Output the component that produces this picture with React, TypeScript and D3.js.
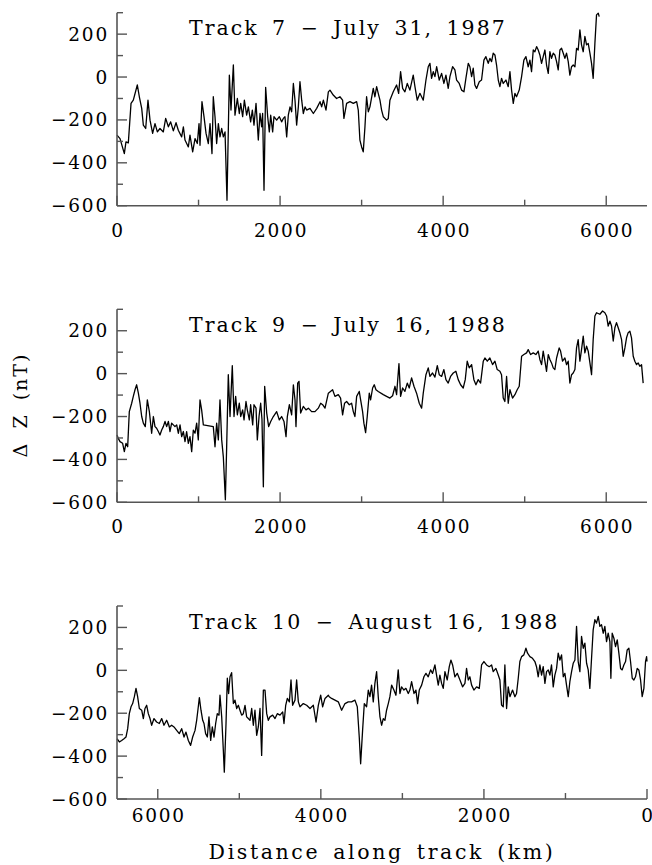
import React from "react";
import * as d3 from "d3";

// Track 7 – July 31, 1987 : [distance km, ΔZ nT]
const track7: [number, number][] = [
  [0, -271], [37, -287], [90, -357], [110, -302], [139, -307], [172, -123], [200, -108], [249, -37],
  [274, -92], [303, -146], [323, -224], [352, -240], [380, -108], [405, -201], [437, -263], [466, -217],
  [495, -256], [527, -240], [568, -256], [597, -193], [630, -232], [658, -209], [691, -251], [724, -213],
  [752, -248], [793, -279], [814, -232], [834, -294], [875, -326], [895, -271], [928, -349], [957, -287],
  [985, -310], [1006, -217], [1018, -318], [1042, -115], [1067, -185], [1092, -263], [1120, -310], [1141, -217],
  [1165, -357], [1181, -92], [1202, -185], [1222, -310], [1243, -217], [1263, -279], [1284, -240], [1304, -279],
  [1325, -256], [1349, -575], [1378, 9], [1398, -154], [1427, 56], [1447, -178], [1476, -100], [1500, -170],
  [1517, -123], [1541, -185], [1562, -108], [1590, -178], [1611, -139], [1639, -209], [1660, -154], [1680, -224],
  [1705, -123], [1733, -294], [1754, -170], [1774, -232], [1786, -170], [1803, -528], [1823, -48], [1848, -185],
  [1868, -256], [1885, -178], [1909, -256], [1925, -185], [1958, -201], [1991, -185], [2019, -209], [2040, -193],
  [2060, -185], [2081, -279], [2101, -178], [2122, -139], [2142, -162], [2163, -30], [2183, -108], [2203, -224],
  [2224, -139], [2244, -22], [2265, -108], [2285, -170], [2306, -139], [2326, -154], [2367, -146], [2408, -170],
  [2449, -146], [2490, -115], [2510, -139], [2531, -108], [2563, -154], [2592, -69], [2612, -61], [2652, -84],
  [2693, -100], [2734, -92], [2767, -108], [2783, -193], [2816, -123], [2857, -115], [2898, -123], [2939, -115],
  [2959, -154], [2979, -294], [3000, -326], [3020, -349], [3041, -232], [3061, -92], [3082, -162], [3102, -139],
  [3143, -53], [3163, -92], [3184, -45], [3204, -76], [3225, -108], [3245, -154], [3266, -185], [3306, -201],
  [3327, -193], [3347, -108], [3388, -69], [3429, -37], [3454, -76], [3478, 25], [3503, -53], [3531, -69],
  [3560, -30], [3592, -61], [3633, 9], [3654, -45], [3682, -108], [3715, -76], [3756, -108], [3789, -14],
  [3817, 48], [3838, 64], [3858, -6], [3879, 25], [3899, 2], [3920, 48], [3952, -14], [3981, 17],
  [4009, -30], [4034, 9], [4062, -53], [4083, 2], [4116, 48], [4144, 33], [4165, -14], [4197, -30],
  [4226, -61], [4255, -69], [4279, -6], [4308, 64], [4328, 48], [4349, 2], [4369, 41], [4389, -37],
  [4410, -53], [4443, -22], [4471, -14], [4500, 79], [4524, 95], [4553, 64], [4573, 87], [4594, 72],
  [4614, 111], [4635, 103], [4655, 56], [4676, -14], [4696, -45], [4716, -6], [4737, -30], [4770, -14],
  [4798, -45], [4819, 25], [4839, -61], [4860, -123], [4880, -76], [4900, -92], [4933, -61], [4962, 2],
  [4990, 79], [5015, 95], [5043, 48], [5064, 79], [5084, 25], [5105, 126], [5125, 118], [5146, 142],
  [5166, 126], [5186, 103], [5207, 64], [5227, 95], [5248, 126], [5268, 56], [5289, 17], [5309, 118],
  [5329, 87], [5350, 111], [5370, 103], [5391, 72], [5411, 33], [5432, 126], [5452, 134], [5473, 111],
  [5493, 87], [5513, 111], [5534, 72], [5554, 9], [5575, 48], [5595, 56], [5616, 48], [5636, 134],
  [5656, 126], [5677, 220], [5697, 150], [5718, 118], [5738, 189], [5759, 150], [5779, 157], [5800, 111],
  [5820, 64], [5840, -6], [5861, 157], [5881, 290], [5902, 298], [5914, 282],
];

// Track 9 – July 16, 1988
const track9: [number, number][] = [
  [0, -286], [16, -302], [37, -317], [69, -325], [90, -364], [110, -325], [131, -341], [151, -177],
  [180, -138], [200, -106], [221, -75], [241, -52], [262, -91], [282, -138], [303, -200], [323, -231],
  [347, -247], [372, -122], [397, -177], [425, -278], [446, -200], [466, -247], [486, -255], [507, -270],
  [527, -286], [548, -263], [568, -247], [589, -223], [609, -247], [630, -223], [650, -270], [670, -231],
  [691, -239], [711, -247], [732, -239], [752, -278], [773, -239], [793, -294], [814, -270], [834, -317],
  [854, -270], [875, -325], [895, -294], [916, -364], [936, -263], [957, -278], [977, -231], [997, -309],
  [1018, -122], [1038, -169], [1059, -239], [1181, -247], [1202, -341], [1222, -231], [1243, -309], [1263, -122],
  [1284, -309], [1304, -388], [1329, -588], [1345, -341], [1365, -5], [1386, -200], [1414, 37], [1435, -200],
  [1455, -106], [1476, -192], [1500, -138], [1517, -200], [1541, -169], [1558, -216], [1582, -130], [1598, -169],
  [1623, -216], [1639, -145], [1664, -239], [1680, -145], [1705, -161], [1721, -309], [1742, -200], [1762, -138],
  [1778, -213], [1795, -528], [1811, -59], [1836, -184], [1860, -247], [1885, -223], [1917, -200], [1958, -177],
  [1991, -216], [2019, -200], [2048, -223], [2073, -294], [2089, -200], [2114, -145], [2142, -192], [2163, -52],
  [2183, -122], [2195, -247], [2216, -44], [2232, -36], [2252, -184], [2285, -153], [2318, -169], [2347, -161],
  [2387, -177], [2428, -177], [2469, -161], [2498, -138], [2522, -145], [2551, -161], [2592, -91], [2644, -75],
  [2673, -106], [2714, -98], [2742, -114], [2767, -192], [2791, -138], [2816, -130], [2849, -145], [2877, -138],
  [2898, -177], [2918, -200], [2939, -106], [2971, -83], [2988, -122], [3012, -177], [3028, -231], [3049, -275],
  [3069, -200], [3094, -91], [3110, -122], [3135, -67], [3155, -52], [3176, -75], [3204, -83], [3266, -98],
  [3306, -106], [3347, -114], [3380, -103], [3409, -59], [3429, -98], [3458, 47], [3478, -106], [3503, -67],
  [3531, -83], [3560, -44], [3584, -67], [3613, -20], [3642, -59], [3674, -91], [3707, -138], [3736, -161],
  [3756, -91], [3789, -5], [3817, 27], [3838, -13], [3870, 3], [3899, -16], [3928, 37], [3952, -5],
  [3981, -13], [4009, 19], [4034, -28], [4062, -44], [4091, -13], [4124, 3], [4156, 11], [4185, -28],
  [4214, -52], [4246, -67], [4271, -28], [4295, 58], [4320, 27], [4349, 42], [4377, -28], [4402, -52],
  [4430, -28], [4459, -44], [4492, 58], [4512, 73], [4541, 58], [4573, 73], [4606, 42], [4635, 58],
  [4663, 19], [4696, 11], [4716, -5], [4737, -114], [4757, -130], [4778, -13], [4798, -138], [4819, -75],
  [4851, -114], [4880, -98], [4908, -75], [4933, -59], [4962, 81], [4990, 89], [5023, 97], [5043, 112],
  [5072, 89], [5105, 97], [5137, 89], [5166, 105], [5186, 66], [5207, 42], [5227, 105], [5248, 58],
  [5268, 11], [5289, 89], [5309, 66], [5329, 50], [5350, 27], [5370, 19], [5391, 73], [5423, 120],
  [5440, 105], [5464, 58], [5493, 73], [5513, 42], [5534, 58], [5554, -44], [5575, -5], [5595, 3],
  [5616, 19], [5636, 120], [5656, 159], [5677, 58], [5697, 112], [5718, 175], [5738, 97], [5759, 128],
  [5779, 105], [5800, 50], [5820, -5], [5840, 159], [5861, 269], [5881, 284], [5922, 277], [5955, 292],
  [5983, 284], [6004, 269], [6024, 222], [6045, 245], [6065, 222], [6086, 152], [6106, 214], [6126, 238],
  [6147, 214], [6167, 191], [6188, 159], [6208, 81], [6229, 120], [6249, 167], [6269, 191], [6290, 198],
  [6310, 167], [6331, 81], [6351, 58], [6372, 42], [6392, 50], [6412, 34], [6433, 42], [6453, -44],
];

// Track 10 – August 16, 1988 (distance axis reversed)
const track10: [number, number][] = [
  [6500, -319], [6471, -334], [6443, -327], [6414, -319], [6390, -311], [6369, -272], [6349, -202], [6328, -170],
  [6308, -155], [6287, -123], [6267, -84], [6247, -123], [6226, -178], [6197, -186], [6177, -225], [6157, -178],
  [6136, -163], [6116, -202], [6095, -225], [6075, -256], [6046, -225], [6014, -241], [5981, -248], [5952, -225],
  [5924, -256], [5891, -233], [5858, -264], [5830, -256], [5801, -264], [5768, -280], [5736, -295], [5707, -272],
  [5678, -311], [5654, -288], [5625, -327], [5597, -350], [5572, -311], [5543, -280], [5523, -233], [5503, -170],
  [5490, -127], [5470, -186], [5449, -233], [5433, -248], [5413, -295], [5392, -311], [5372, -217], [5351, -327],
  [5331, -264], [5310, -311], [5290, -248], [5270, -202], [5249, -209], [5237, -116], [5216, -217], [5196, -373],
  [5184, -475], [5163, -248], [5147, -37], [5131, -108], [5114, -30], [5094, -11], [5073, -155], [5053, -139],
  [5032, -178], [5012, -163], [4992, -186], [4971, -209], [4951, -202], [4930, -163], [4910, -217], [4889, -225],
  [4869, -233], [4848, -178], [4828, -256], [4808, -186], [4787, -303], [4767, -264], [4746, -178], [4726, -397],
  [4705, -92], [4685, -92], [4664, -202], [4644, -233], [4624, -217], [4591, -209], [4562, -225], [4534, -202],
  [4501, -209], [4468, -194], [4452, -248], [4431, -163], [4411, -131], [4386, -147], [4366, -45], [4346, -163],
  [4317, -139], [4297, -45], [4276, -147], [4256, -170], [4215, -155], [4174, -163], [4133, -178], [4092, -163],
  [4059, -241], [4031, -163], [4002, -116], [3978, -170], [3949, -131], [3908, -116], [3897, -123], [3868, -131],
  [3827, -139], [3786, -147], [3745, -186], [3704, -155], [3664, -147], [3623, -147], [3582, -139], [3553, -170],
  [3529, -311], [3512, -436], [3488, -280], [3467, -155], [3439, -170], [3418, -92], [3398, -123], [3378, -69],
  [3357, -147], [3337, -61], [3316, -6], [3296, -123], [3275, -217], [3255, -256], [3234, -225], [3214, -233],
  [3194, -186], [3173, -155], [3153, -123], [3132, -69], [3104, -92], [3079, -116], [3051, 2], [3030, -108],
  [3010, -77], [2981, -92], [2957, -84], [2928, -108], [2908, -92], [2887, -53], [2858, -108], [2834, -92],
  [2813, -155], [2793, -92], [2764, -69], [2736, -30], [2711, -14], [2683, -30], [2654, 2], [2630, -14],
  [2601, 25], [2581, -22], [2560, -69], [2540, -22], [2519, -61], [2499, -84], [2478, -6], [2450, -45],
  [2425, 17], [2405, 48], [2384, 25], [2356, -30], [2327, -14], [2294, -45], [2262, -77], [2233, -61],
  [2213, 9], [2192, -45], [2172, -30], [2151, -69], [2123, -92], [2090, -77], [2057, -84], [2029, 25],
  [2000, 41], [1968, 25], [1935, 17], [1906, 25], [1886, -6], [1853, 9], [1824, -22], [1804, -45],
  [1784, -162], [1763, -170], [1743, 25], [1722, -178], [1702, -77], [1681, -123], [1649, -92], [1620, -123],
  [1600, -108], [1579, -37], [1559, 41], [1538, 64], [1510, 72], [1485, 103], [1465, 80], [1436, 64],
  [1404, 56], [1375, 41], [1355, 17], [1334, -30], [1314, 25], [1293, -22], [1273, 17], [1252, -61],
  [1232, -6], [1211, 2], [1191, -22], [1171, 25], [1150, -77], [1130, -22], [1109, 9], [1089, 80],
  [1068, 48], [1048, 72], [1027, -30], [1007, -14], [987, -69], [966, -123], [946, -53], [925, -6],
  [905, 33], [884, 48], [864, 205], [844, 41], [823, -6], [803, 158], [782, 103], [762, 127],
  [741, 33], [721, 2], [701, -84], [680, 56], [660, 189], [639, 236], [619, 220], [598, 252],
  [578, 205], [558, 213], [537, 173], [517, 205], [496, 134], [476, 173], [455, 134], [443, -37],
  [427, 173], [406, 150], [386, 111], [365, 142], [345, 80], [324, 9], [304, 2], [284, 25],
  [263, 41], [243, 95], [222, 103], [202, 41], [181, -37], [161, -45], [141, -30], [120, 9],
  [100, 2], [79, -45], [59, -123], [38, -84], [18, 41], [5, 64], [0, 41],
];

const yMajorTicks = [-600, -400, -200, 0, 200];
const yMinorTicks = [-500, -300, -100, 100, 300];
const xMajorTicks = [0, 2000, 4000, 6000];
const xMinorTicks = [1000, 3000, 5000];
const panelTitles = ["Track 7 − July 31, 1987", "Track 9 − July 16, 1988", "Track 10 − August 16, 1988"];
const yLabel = "Δ Z (nT)";
const xLabel = "Distance along track (km)";

const FONT = "'DejaVu Serif', serif";
const X0 = 117;
const X1 = 647;
const PH = 193;
const tops = [12.7, 309.3, 606];
const labelOffsets = [31, 31, 23];

function Panel({ data, top, reversed, title, labelOffset }: { data: [number, number][]; top: number; reversed: boolean; title: string; labelOffset: number }) {
  const x = d3.scaleLinear().domain(reversed ? [6500, 0] : [0, 6500]).range([X0, X1]);
  const y = d3.scaleLinear().domain([-600, 300]).range([top + PH, top]);
  const line = d3.line<[number, number]>().x((d) => x(d[0])).y((d) => y(d[1]));
  const fmt = d3.format("d");
  const axisColor = "#555";
  const bottom = top + PH;
  return (
    <g>
      <path d={line(data) || ""} fill="none" stroke="#000" strokeWidth={1.3} strokeLinejoin="round" />
      <line x1={X0} x2={X0} y1={top} y2={bottom} stroke={axisColor} strokeWidth={1.6} />
      <line x1={X0} x2={X1} y1={bottom} y2={bottom} stroke={axisColor} strokeWidth={1.6} />
      {yMajorTicks.map((t) => (
        <g key={"ym" + t}>
          <line x1={X0} x2={X0 + 10} y1={y(t)} y2={y(t)} stroke={axisColor} strokeWidth={1.4} />
          <text x={109} y={y(t) + 6.5} textAnchor="end" fontFamily={FONT} fontSize={18.5} letterSpacing={1.8} fill="#000">
            {fmt(t)}
          </text>
        </g>
      ))}
      {yMinorTicks.map((t) => (
        <line key={"yn" + t} x1={X0} x2={X0 + 6} y1={y(t)} y2={y(t)} stroke={axisColor} strokeWidth={1.4} />
      ))}
      {xMajorTicks.map((t) => (
        <g key={"xm" + t}>
          <line x1={x(t)} x2={x(t)} y1={bottom} y2={bottom - 10} stroke={axisColor} strokeWidth={1.4} />
          <text x={x(t) + 1} y={bottom + labelOffset} textAnchor="middle" fontFamily={FONT} fontSize={18.5} letterSpacing={1.8} fill="#000">
            {fmt(t)}
          </text>
        </g>
      ))}
      {xMinorTicks.map((t) => (
        <line key={"xn" + t} x1={x(t)} x2={x(t)} y1={bottom} y2={bottom - 6} stroke={axisColor} strokeWidth={1.4} />
      ))}
      <text x={189} y={top + 22.5} fontFamily={FONT} fontSize={20.5} letterSpacing={2} wordSpacing={5} fill="#000">
        {title}
      </text>
    </g>
  );
}

export default function App() {
  const datasets = [track7, track9, track10];
  return (
    <svg width={652} height={865} style={{ display: "block", position: "absolute", left: 0, top: 0, background: "#fff" }}>
      <rect width={652} height={865} fill="#fff" />
      {datasets.map((d, i) => (
        <Panel key={i} data={d} top={tops[i]} reversed={i === 2} title={panelTitles[i]} labelOffset={labelOffsets[i]} />
      ))}
      <text transform="translate(27,405) rotate(-90)" textAnchor="middle" fontFamily={FONT} fontSize={19} letterSpacing={2} wordSpacing={5} fill="#000">
        {yLabel}
      </text>
      <text x={382} y={859} textAnchor="middle" fontFamily={FONT} fontSize={20.5} letterSpacing={2.6} wordSpacing={4} fill="#000">
        {xLabel}
      </text>
    </svg>
  );
}
